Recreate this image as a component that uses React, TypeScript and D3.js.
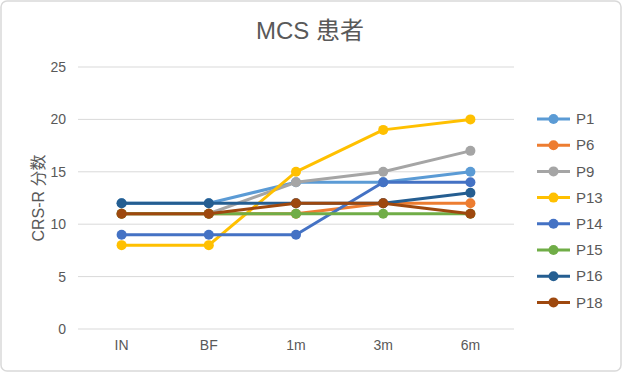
import React from 'react';
import * as d3 from 'd3';

const categories = ['IN', 'BF', '1m', '3m', '6m'];
const seriesNames = ['P1', 'P6', 'P9', 'P13', 'P14', 'P15', 'P16', 'P18'];
const seriesColors = ['#5B9BD5', '#ED7D31', '#A5A5A5', '#FFC000', '#4472C4', '#70AD47', '#255E91', '#9E480E'];
const P1 = [12, 12, 14, 14, 15];
const P6 = [11, 11, 11, 12, 12];
const P9 = [11, 11, 14, 15, 17];
const P13 = [8, 8, 15, 19, 20];
const P14 = [9, 9, 9, 14, 14];
const P15 = [11, 11, 11, 11, 11];
const P16 = [12, 12, 12, 12, 13];
const P18 = [11, 11, 12, 12, 11];
const seriesValues = [P1, P6, P9, P13, P14, P15, P16, P18];
const yTicks = [0, 5, 10, 15, 20, 25];

const W = 622;
const H = 372;
const font = '"Liberation Sans", "Noto Sans CJK SC", Arial, sans-serif';

export default function App() {
  const x = d3.scaleBand<string>().domain(categories).range([78, 514]);
  const y = d3.scaleLinear().domain([0, 25]).range([329, 67]);
  const cx = (c: string) => (x(c) ?? 0) + x.bandwidth() / 2;
  const line = d3
    .line<number>()
    .x((_, i) => cx(categories[i]))
    .y((d) => y(d));

  return (
    <svg width={W} height={H} style={{ position: 'absolute', left: 0, top: 0 }} fontFamily={font}>
      <rect x={1} y={1} width={W - 2} height={H - 2} rx={6} fill="#fff" stroke="#d9d9d9" strokeWidth={1.5} />
      <text x={310} y={39} textAnchor="middle" fontSize={24} fill="#595959">MCS 患者</text>

      {yTicks.map((t) => (
        <g key={t}>
          <line x1={78} x2={514} y1={y(t)} y2={y(t)} stroke="#d9d9d9" strokeWidth={1} />
          <text x={66} y={y(t)} dy="0.35em" textAnchor="end" fontSize={14} fill="#595959">{t}</text>
        </g>
      ))}

      {categories.map((c) => (
        <text key={c} x={cx(c)} y={350} textAnchor="middle" fontSize={14} fill="#595959">{c}</text>
      ))}

      <text transform={`translate(44,${y(12.5)}) rotate(-90)`} textAnchor="middle" fontSize={16} fill="#595959">CRS-R 分数</text>

      {seriesValues.map((vals, si) => (
        <g key={seriesNames[si]}>
          <path d={line(vals) ?? ''} fill="none" stroke={seriesColors[si]} strokeWidth={3} strokeLinejoin="round" />
          {vals.map((v, i) => (
            <circle key={i} cx={cx(categories[i])} cy={y(v)} r={5} fill={seriesColors[si]} />
          ))}
        </g>
      ))}

      {seriesNames.map((n, i) => {
        const ly = 119 + i * 26.2;
        return (
          <g key={n}>
            <line x1={537} x2={570} y1={ly} y2={ly} stroke={seriesColors[i]} strokeWidth={3} />
            <circle cx={553.5} cy={ly} r={5} fill={seriesColors[i]} />
            <text x={576} y={ly} dy="0.35em" fontSize={15} fill="#595959">{n}</text>
          </g>
        );
      })}
    </svg>
  );
}
